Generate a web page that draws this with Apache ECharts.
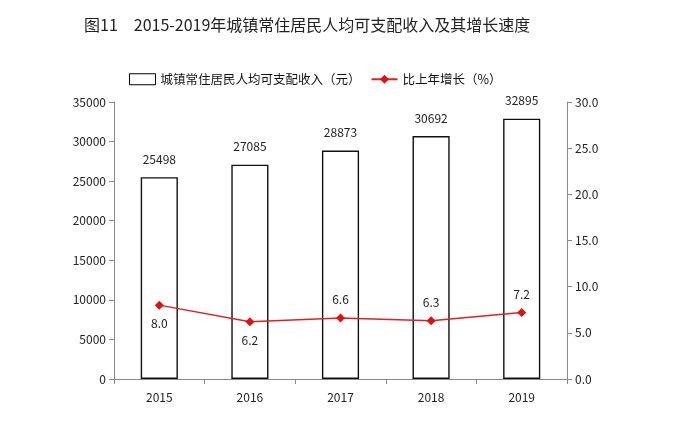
<!DOCTYPE html>
<html><head><meta charset="utf-8">
<script src="https://cdn.jsdelivr.net/npm/echarts@6/dist/echarts.min.js"></script>
<style>html,body{margin:0;padding:0;background:#fff}#c{width:677px;height:424px}</style>
</head><body><div id="c"></div>
<script>
const categories = ['2015','2016','2017','2018','2019'];
const incomeValues = [25498, 27085, 28873, 30692, 32895];
const growthValues = [8.0, 6.2, 6.6, 6.3, 7.2];
const growthLabelPos = ['bottom','bottom','top','top','top'];
const leftTicks = [0, 35000, 5000];
const rightTicks = [0, 30, 5];
const titleText = '图11　2015-2019年城镇常住居民人均可支配收入及其增长速度';
const seriesNames = ['城镇常住居民人均可支配收入（元）', '比上年增长（%）'];

const chart = echarts.init(document.getElementById('c'));
const font = 'Noto Sans CJK SC, Noto Sans, sans-serif';
chart.setOption({
  animation: false,
  backgroundColor: '#fff',
  title: {
    text: titleText, left: 79, top: 12,
    textStyle: {fontFamily: font, fontSize: 16, fontWeight: 'normal', color: '#222'}
  },
  legend: {
    top: 68, left: 124, itemGap: 10, itemWidth: 26, itemHeight: 11,
    textStyle: {fontFamily: font, fontSize: 12.5, color: '#111'},
    data: [
      {name: seriesNames[0], icon: 'rect', itemStyle: {color: '#fff', borderColor: '#000', borderWidth: 1}},
      {name: seriesNames[1]}
    ]
  },
  grid: {left: 114, right: 110, top: 102, bottom: 45},
  xAxis: {
    type: 'category', data: categories,
    axisLine: {lineStyle: {color: '#888'}},
    axisTick: {show: true, length: 5, lineStyle: {color: '#888'}},
    axisLabel: {fontFamily: font, fontSize: 12, color: '#222', margin: 12}
  },
  yAxis: [
    {type: 'value', min: leftTicks[0], max: leftTicks[1], interval: leftTicks[2],
     splitLine: {show: false},
     axisLine: {show: true, lineStyle: {color: '#888'}},
     axisTick: {show: true, length: 5, lineStyle: {color: '#888'}},
     axisLabel: {fontFamily: font, fontSize: 12, color: '#222', margin: 8,
       formatter: v => String(v)}},
    {type: 'value', min: rightTicks[0], max: rightTicks[1], interval: rightTicks[2],
     splitLine: {show: false},
     axisLine: {show: true, lineStyle: {color: '#888'}},
     axisTick: {show: true, length: 5, lineStyle: {color: '#888'}},
     axisLabel: {fontFamily: font, fontSize: 12, color: '#222', margin: 8,
       formatter: v => v.toFixed(1)}}
  ],
  series: [
    {name: seriesNames[0], type: 'bar', yAxisIndex: 0, data: incomeValues,
     barWidth: '41%',
     itemStyle: {color: '#fff', borderColor: '#111', borderWidth: 1.4},
     label: {show: true, position: 'top', distance: 12, fontFamily: font, fontSize: 12, color: '#222'}},
    {name: seriesNames[1], type: 'line', yAxisIndex: 1,
     data: growthValues.map((v, i) => ({value: v, label: {position: growthLabelPos[i]}})),
     symbol: 'diamond', symbolSize: 9,
     lineStyle: {color: '#e32020', width: 1.5},
     itemStyle: {color: '#e01010'},
     label: {show: true, distance: 8, fontFamily: font, fontSize: 12, color: '#222',
       formatter: p => p.value.toFixed(1)}}
  ]
});
</script></body></html>
